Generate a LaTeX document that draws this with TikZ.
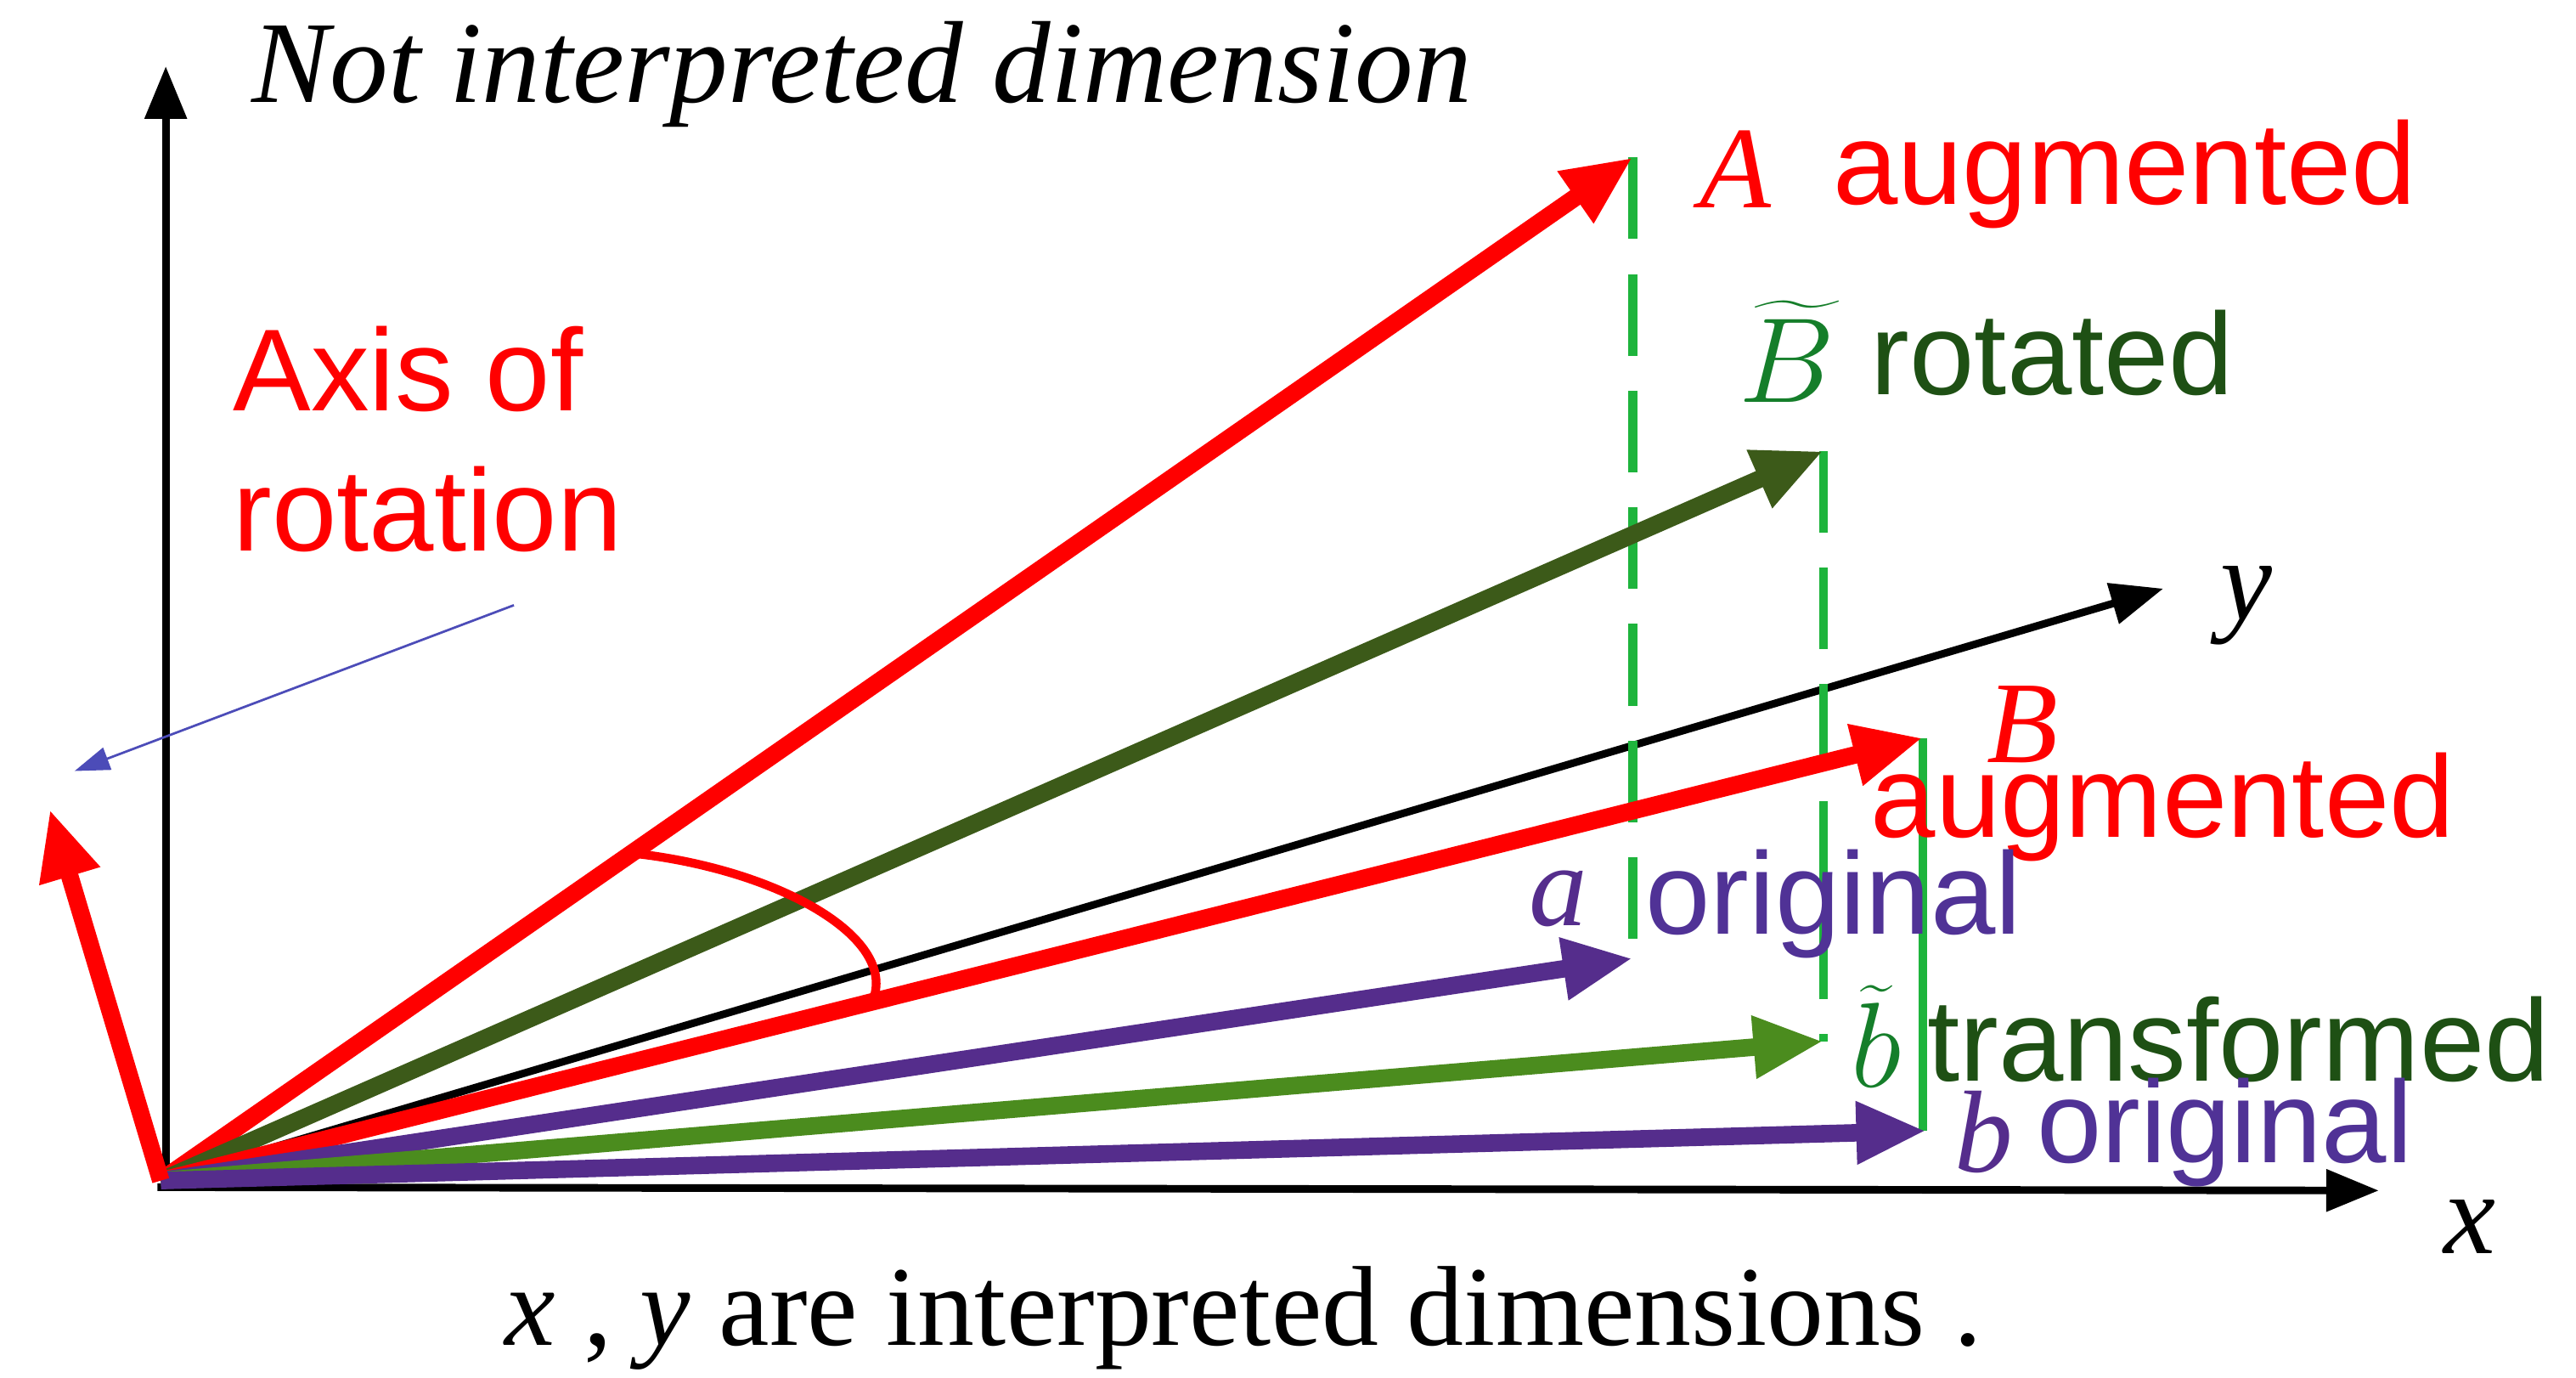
\documentclass[tikz,border=0pt]{standalone}
\usepackage{fontspec}
\setmainfont{Liberation Serif}
\setsansfont{Liberation Sans}
\usetikzlibrary{arrows.meta}
\definecolor{dgreen}{RGB}{60,90,25}
\definecolor{lgreen}{RGB}{75,140,30}
\definecolor{purp}{RGB}{85,45,140}
\definecolor{dashg}{RGB}{30,180,60}
\definecolor{tgreen}{RGB}{30,80,20}
\definecolor{tpurp}{RGB}{80,50,150}
\begin{document}
\begin{tikzpicture}[x=0.01cm,y=-0.01cm,
  vec/.style={line width=3pt,-{Triangle[length=12pt,width=10pt]}},
  ax/.style={line width=1.3pt,-{Triangle[length=9pt,width=7pt]}},
  lab/.style={font=\sffamily\fontsize{20}{24}\selectfont,anchor=west,inner sep=0pt},
  mlab/.style={font=\itshape\fontsize{20}{22}\selectfont}]
\useasboundingbox (0,0) rectangle (1554,831);
\coordinate (O) at (97,712);
\coordinate (Ytop) at (100,40);
\coordinate (Xend) at (1435,718);
\coordinate (Yend) at (1305,355);
\coordinate (A) at (985,95);
\coordinate (Bt) at (1100,272);
\coordinate (B) at (1160,445);
\coordinate (a) at (985,578);
\coordinate (bt) at (1100,628);
\coordinate (b) at (1162,682);
\coordinate (R) at (30,488);
\coordinate (s1) at (310,365);
\coordinate (s2) at (45,465);
\draw[ax] (100,715) -- (Ytop);
\draw[ax] (95,716) -- (Xend);
\draw[line width=1.3pt,-{Triangle[length=9pt,width=7pt]}] (O) -- (Yend);
\draw[dashg,line width=1.5pt,dash pattern=on 14pt off 6pt] (985,95) -- (985,578);
\draw[dashg,line width=1.5pt,dash pattern=on 14pt off 6pt] (1100,272) -- (1100,628);
\draw[dashg,line width=1.5pt] (1160,445) -- (1160,682);
\draw[vec,red] (O) -- (A);
\draw[vec,dgreen] (O) -- (Bt);
\draw[vec,red] (O) -- (B);
\draw[vec,purp] (O) -- (a);
\draw[vec,lgreen] (O) -- (bt);
\draw[vec,purp] (O) -- (b);
\draw[vec,red] (O) -- (R);
\draw[blue!60!black!70,line width=0.4pt,-{Triangle[length=6pt,width=4pt]}] (s1) -- (s2);
\draw[red,line width=1.5pt] (385,515) .. controls (470,525) and (540,565) .. (527,602);
\node[mlab] (nt) at (520,45) {Not interpreted dimension};
\node[mlab] (xl) at (1490,740) {x};
\node[mlab] (yl) at (1355,365) {y};
\node[mlab,red] (Al) at (1047,102) {A};
\node[lab,red] (Aa) at (1105,105) {augmented};
\node[mlab,dashg!70!black] (Btl) at (1078,212) {$\widetilde{B}$};
\node[lab,tgreen] (Btr) at (1128,213) {rotated};
\node[mlab,red] (Bl) at (1220,437) {B};
\node[lab,red] (Ba) at (1128,487) {augmented};
\node[mlab,purp] (al) at (940,542) {a};
\node[lab,tpurp] (ao) at (992,545) {original};
\node[mlab,dashg!70!black] (btl) at (1132,625) {$\widetilde{b}$};
\node[lab,tgreen] (btt) at (1162,627) {transformed};
\node[mlab,purp] (bl) at (1197,683) {b};
\node[lab,tpurp] (bo) at (1228,683) {original};
\node[lab,red,align=left] (axr) at (140,265) {Axis of\\rotation};
\node[font=\fontsize{19.5}{22}\selectfont] (bot) at (750,795) {\textit{x} , \textit{y} are interpreted dimensions .};
\end{tikzpicture}
\end{document}
